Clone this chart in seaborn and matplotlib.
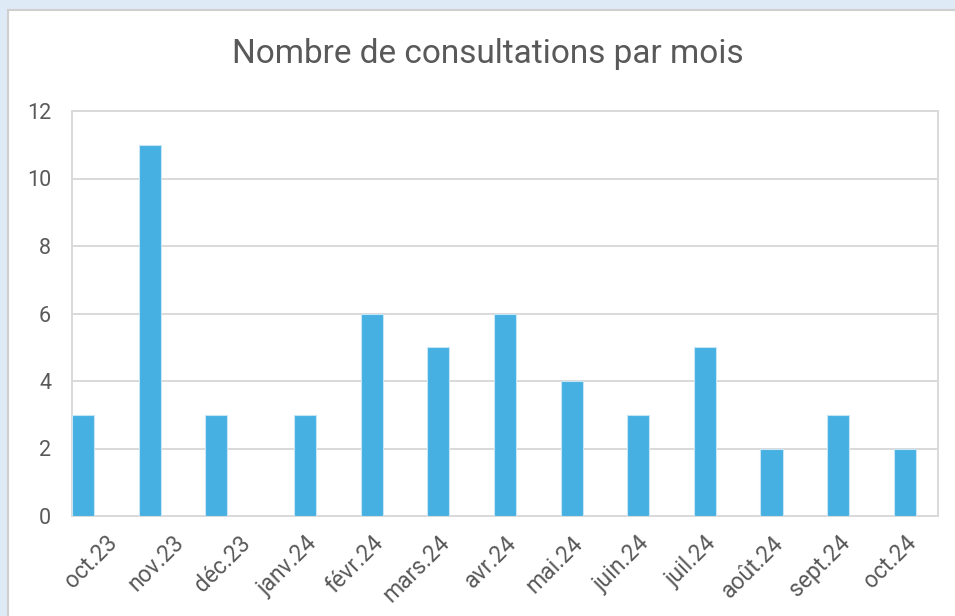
import matplotlib
matplotlib.use("Agg")
import matplotlib.pyplot as plt
import seaborn as sns
import pandas as pd
from matplotlib.patches import Rectangle

# données
mois = ["oct.23", "nov.23", "déc.23", "janv.24", "févr.24", "mars.24", "avr.24",
        "mai.24", "juin.24", "juil.24", "août.24", "sept.24", "oct.24"]
consultations = [3, 11, 3, 3, 6, 5, 6, 4, 3, 5, 2, 3, 2]
groupe = ["2023", "2023", "2023"] + ["2024"] * 10
niveaux = ["2023", "2024", "vide"]

df = pd.DataFrame({"Mois": mois, "Consultations": consultations, "Groupe": groupe})

sns.set_style("white")
plt.rcParams["font.family"] = ["Roboto", "DejaVu Sans"]

bleu = "#45B0E1"
gris_txt = "#595959"
gris_ligne = "#D9D9D9"

fig = plt.figure(figsize=(9.55, 6.16), dpi=100)
fig.patch.set_facecolor("#DEEAF6")
fond = Rectangle((8 / 955, -0.01), 1.0, 1 - 10 / 616 + 0.01,
                 transform=fig.transFigure, facecolor="white",
                 edgecolor="#CFCFCF", linewidth=1.5, zorder=-10)
fig.patches.append(fond)

ax = fig.add_axes([72 / 955, 100 / 616, 866 / 955, 405 / 616])
ax.set_facecolor("white")

sns.barplot(data=df, x="Mois", y="Consultations", hue="Groupe", hue_order=niveaux,
            palette={"2023": bleu, "2024": bleu, "vide": bleu}, dodge=True, width=1.0,
            saturation=1, edgecolor="#C6E6F6", linewidth=0.8, legend=False, ax=ax, zorder=3)

ax.set_ylim(0, 12)
ax.set_yticks(range(0, 13, 2))
ax.set_xlim(-0.5, len(mois) - 0.5)
ax.yaxis.grid(True, color=gris_ligne, linewidth=1.4, zorder=0)
ax.set_axisbelow(True)
for s in ax.spines.values():
    s.set_color(gris_ligne)
    s.set_linewidth(1.4)

ax.set_xlabel("")
ax.set_ylabel("")
ax.tick_params(axis="y", length=0, colors=gris_txt, labelsize=15.5, pad=15)
ax.tick_params(axis="x", length=0, colors=gris_txt, labelsize=16.5, pad=11)
for lab in ax.get_xticklabels():
    lab.set_rotation(45)
    lab.set_ha("right")
    lab.set_rotation_mode("anchor")

fig.text(488 / 955, 1 - 54 / 616, "Nombre de consultations par mois",
         ha="center", va="center", fontsize=24, color=gris_txt)

fig.savefig("out.png", dpi=100, facecolor=fig.get_facecolor())
